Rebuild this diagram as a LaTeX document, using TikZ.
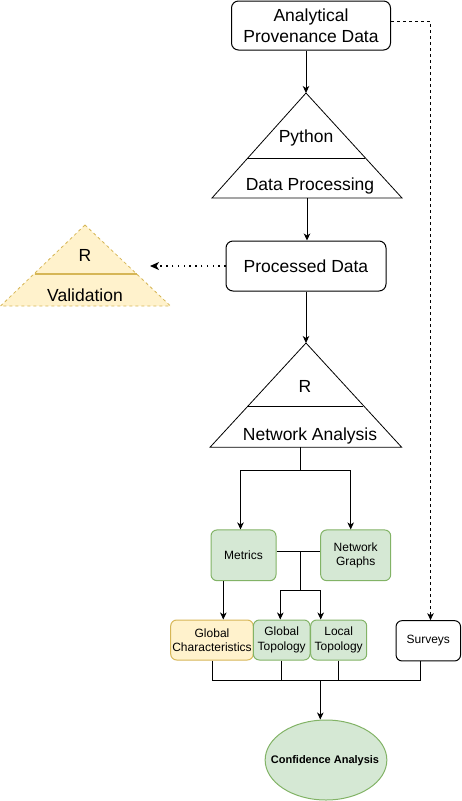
\documentclass[tikz,border=0pt]{standalone}
\usepackage{fontspec}
\setmainfont{Liberation Sans}
\usepackage{tikz}
\usepackage{xcolor}
\usetikzlibrary{arrows.meta, positioning, shapes}
\definecolor{drgreen}{HTML}{D5E8D4}
\definecolor{drgreenline}{HTML}{82B366}
\definecolor{dryellow}{HTML}{FFF2CC}
\definecolor{dryellowline}{HTML}{D6B656}
\tikzset{
	%Define standard arrow tip
	>={Stealth[length=7pt, width=6.5pt, inset=2pt]},
	% Define arrow styles
	pil/.style={
		->,
		line width=1pt
	},
	dotpil/.style={
		-{Stealth[length=9pt, width=8pt, inset=2.5pt]},
		line width=1.3pt,
		dash pattern=on 1.3pt off 4.5pt
	},
	dashpil/.style={
		->,
		line width=0.8pt,
		dash pattern=on 3pt off 3pt
	},
	% boxes
	box/.style={
		rectangle, draw, rounded corners=7pt, line width=1pt,
		inner sep=0, align=center
	},
	bigbox/.style={
		box, font=\fontsize{17.5}{20.5}\selectfont
	},
	smallbox/.style={
		box, rounded corners=6pt, font=\fontsize{12}{14.5}\selectfont
	},
	greenbox/.style={
		smallbox, draw=drgreenline, fill=drgreen
	},
	yellowbox/.style={
		smallbox, draw=dryellowline, fill=dryellow
	},
	bigtext/.style={
		inner sep=0, font=\fontsize{17.5}{20.5}\selectfont
	},
	tri/.style={
		line width=0.8pt, line join=miter
	}
}

\begin{document}
\begin{tikzpicture}[x=1pt, y=-1pt]
\useasboundingbox (0,0) rectangle (461,801);

\node[bigbox, minimum width=159, minimum height=49] at (311,25.5) (apd) {Analytical\\Provenance Data};
\node[bigbox, minimum width=160, minimum height=50] at (306,266) (pd) {Processed Data};

% python triangle
\coordinate (pyA) at (306,93);
\coordinate (pyB) at (307,198);
\draw[tri] (pyA) -- (212,198) -- (402,198) -- cycle;
\draw[tri] (247,158) -- (365,158);
\node[bigtext] at (306,138) (py) {Python};
\node[bigtext] at (310,186) (dp) {Data Processing};

% validation triangle
\coordinate (vaEnd) at (150,266);
\draw[tri, draw=dryellowline, fill=dryellow, dash pattern=on 3pt off 3pt] (85,225) -- (0.5,306) -- (170.5,306) -- cycle;
\draw[tri, draw=dryellowline, line width=1.2pt] (35,274) -- (136.5,274);
\node[bigtext] at (85,255) (vr) {R};
\node[bigtext] at (85,295) (va) {Validation};

% network triangle
\coordinate (naA) at (306,343);
\coordinate (naB) at (300.5,447.3);
\draw[tri] (naA) -- (210,447.3) -- (401.7,447.3) -- cycle;
\draw[tri] (248.3,406) -- (363.3,406);
\node[bigtext] at (305,386) (nr) {R};
\node[bigtext] at (310,436) (na) {Network Analysis};

\node[greenbox, minimum width=65, minimum height=50.7] at (243.5,555.3) (me) {Metrics};
\node[greenbox, minimum width=70, minimum height=50.7] at (355.7,555.3) (ng) {Network\\Graphs};

\node[yellowbox, minimum width=82.6, minimum height=40] at (212,640) (gc) {Global\\Characteristics};
\node[greenbox, minimum width=56.7, minimum height=40] at (281.7,640) (gt) {Global\\Topology};
\node[greenbox, minimum width=56, minimum height=40] at (338.7,640) (lt) {Local\\Topology};
\node[smallbox, minimum width=64.5, minimum height=40.3] at (428.3,640.8) (sv) {Surveys};

\node[ellipse, draw=drgreenline, fill=drgreen, line width=1pt, minimum width=121.7, minimum height=80] at (326,760) (ca) {};
\node[inner sep=0, font=\bfseries\fontsize{11}{13}\selectfont] at (325,761) (cat) {Confidence Analysis};

% main flow
\path[pil] (pyA |- apd.south) edge (pyA);
\path[pil] (pyB) edge (pyB |- pd.north);
\path[dotpil] (pd.west) edge (vaEnd);
\path[pil] (naA |- pd.south) edge (naA);

% to metrics and graphs
\coordinate (fork) at (300.5,470);
\coordinate (mfork) at (240.5,470);
\coordinate (gfork) at (350.7,470);
\draw[line width=1pt] (naB) -- (fork);
\draw[line width=1pt] (mfork) -- (gfork);
\path[pil] (mfork) edge (mfork |- me.north);
\path[pil] (gfork) edge (gfork |- ng.north);

% to topology
\coordinate (tfork) at (300.3,551.7);
\coordinate (tfork2) at (300.3,590);
\coordinate (gtfork) at (280.3,590);
\coordinate (ltfork) at (320.7,590);
\coordinate (mgc) at (223.3,600);
\draw[line width=1pt] (me.east |- tfork) -- (ng.west |- tfork);
\draw[line width=1pt] (tfork) -- (tfork2);
\draw[line width=1pt] (gtfork) -- (ltfork);
\path[pil] (gtfork) edge (gtfork |- gt.north);
\path[pil] (ltfork) edge (ltfork |- lt.north);
\path[pil] (me.south -| mgc) edge (mgc |- gc.north);

% surveys
\coordinate (svturn) at (430.5,21.7);
\draw[dashpil] (apd.east |- svturn) -- (svturn) -- (svturn |- sv.north);

% merge
\coordinate (mrg) at (320.3,680.7);
\coordinate (svleg) at (420.7,680.7);
\draw[line width=1pt] (gc.south) -- (gc.south |- mrg);
\draw[line width=1pt] (gt.south) -- (gt.south |- mrg);
\draw[line width=1pt] (lt.south) -- (lt.south |- mrg);
\draw[line width=1pt] (svleg |- sv.south) -- (svleg);
\draw[line width=1pt] (gc.south |- mrg) -- (svleg);
\path[pil] (mrg) edge (mrg |- ca.north);

\end{tikzpicture}
\end{document}
